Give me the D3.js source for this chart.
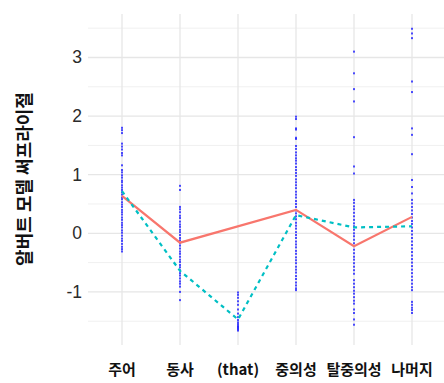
<!DOCTYPE html>
<html>
<head>
<meta charset="utf-8">
<script src="https://cdn.jsdelivr.net/npm/d3@7/dist/d3.min.js"></script>
<style>
html,body{margin:0;padding:0;background:#fff;}
svg{display:block;}
</style>
</head>
<body>
<svg id="chart" width="444" height="383"></svg>
<script>
const categories = ["주어", "동사", "(that)", "중의성", "탈중의성", "나머지"];
const yTicks = [-1, 0, 1, 2, 3];
const yMinor = [-1.5, -0.5, 0.5, 1.5, 2.5, 3.5];

// solid red line (null = no value)
const seriesSolid = [0.64, -0.16, null, 0.40, -0.22, 0.28];
// dashed teal line
const seriesDashed = [0.72, -0.64, -1.47, 0.31, 0.10, 0.12];

// individual blue points per category
const dots주어 = [1.80,1.76,1.71,1.53,1.48,1.43,1.37,1.33,1.16,1.08,1.04,0.99,0.95,0.90,0.87,0.82,0.78,0.74,0.70,0.66,0.61,0.58,0.53,0.49,0.45,0.40,0.36,0.32,0.27,0.23,0.18,0.14,0.10,0.05,0.01,-0.04,-0.09,-0.13,-0.18,-0.23,-0.27,-0.31];
const dots동사 = [0.81,0.74,0.45,0.41,0.36,0.30,0.26,0.20,0.15,0.11,0.06,0.02,-0.03,-0.08,-0.12,-0.17,-0.21,-0.26,-0.31,-0.35,-0.40,-0.45,-0.49,-0.54,-0.58,-0.63,-0.68,-0.72,-0.77,-0.82,-0.86,-0.91,-1.00,-1.14];
const dotsThat = [-1.01,-1.05,-1.10,-1.16,-1.22,-1.30,-1.37,-1.43,-1.48,-1.52,-1.55,-1.58,-1.60,-1.62,-1.64,-1.66];
const dots중의성 = [1.99,1.95,1.79,1.77,1.63,1.61,1.49,1.44,1.38,1.33,1.28,1.24,1.19,1.13,1.08,1.03,0.98,0.92,0.87,0.82,0.77,0.71,0.66,0.61,0.55,0.50,0.45,0.39,0.34,0.29,0.24,0.18,0.13,0.08,0.02,-0.03,-0.08,-0.14,-0.19,-0.24,-0.30,-0.35,-0.41,-0.46,-0.51,-0.57,-0.62,-0.67,-0.73,-0.78,-0.84,-0.89,-0.94,-0.97];
const dots탈중의성 = [3.10,2.73,2.46,2.25,1.64,1.14,1.02,0.57,0.52,0.46,0.41,0.35,0.29,0.23,0.17,0.12,0.06,0.00,-0.05,-0.11,-0.17,-0.22,-0.28,-0.34,-0.40,-0.45,-0.51,-0.57,-0.63,-0.69,-0.80,-0.86,-0.92,-0.98,-1.03,-1.09,-1.15,-1.20,-1.30,-1.36,-1.47,-1.56];
const dots나머지 = [3.49,3.41,3.33,2.59,2.41,1.79,1.68,1.35,0.91,0.79,0.68,0.57,0.51,0.45,0.39,0.33,0.27,0.21,0.16,0.10,0.04,-0.02,-0.08,-0.14,-0.20,-0.26,-0.32,-0.38,-0.44,-0.50,-0.56,-0.62,-0.68,-0.74,-0.80,-0.86,-0.92,-0.97,-1.17,-1.22,-1.27,-1.31,-1.36];
const dotGroups = [dots주어, dots동사, dotsThat, dots중의성, dots탈중의성, dots나머지];

const svg = d3.select("#chart");
const panel = {left: 88, right: 444, top: 14, bottom: 345};

const x = d3.scalePoint().domain(categories).range([122, 412]);
const y = d3.scaleLinear().domain([-1.906, 3.742]).range([panel.bottom, panel.top]);

// grid
const grid = svg.append("g");
grid.selectAll("line.minor").data(yMinor).join("line")
  .attr("x1", panel.left).attr("x2", panel.right)
  .attr("y1", d => y(d)).attr("y2", d => y(d))
  .attr("stroke", "#f0f0f0").attr("stroke-width", 1);
grid.selectAll("line.major").data(yTicks).join("line")
  .attr("x1", panel.left).attr("x2", panel.right)
  .attr("y1", d => y(d)).attr("y2", d => y(d))
  .attr("stroke", "#e6e6e6").attr("stroke-width", 1.3);
grid.selectAll("line.vert").data(categories).join("line")
  .attr("x1", d => x(d)).attr("x2", d => x(d))
  .attr("y1", panel.top).attr("y2", panel.bottom)
  .attr("stroke", "#e6e6e6").attr("stroke-width", 1.3);

// dots
const pts = [];
dotGroups.forEach((g, i) => g.forEach(v => pts.push({c: categories[i], v})));
svg.append("g").selectAll("rect").data(pts).join("rect")
  .attr("x", d => x(d.c) - 1)
  .attr("y", d => y(d.v) - 1)
  .attr("width", 2).attr("height", 2)
  .attr("fill", "#1f1fff").attr("opacity", 0.8);

// lines
const solidData = categories.map((c, i) => ({c, v: seriesSolid[i]})).filter(d => d.v !== null);
const dashedData = categories.map((c, i) => ({c, v: seriesDashed[i]}));
const line = d3.line().x(d => x(d.c)).y(d => y(d.v));
svg.append("path").datum(solidData).attr("d", line)
  .attr("fill", "none").attr("stroke", "#F8766D").attr("stroke-width", 2.2);
svg.append("path").datum(dashedData).attr("d", line)
  .attr("fill", "none").attr("stroke", "#00BFC4").attr("stroke-width", 2.2)
  .attr("stroke-dasharray", "4,4");

// y tick labels
svg.append("g").selectAll("text").data(yTicks).join("text")
  .attr("x", 82).attr("y", d => y(d))
  .attr("text-anchor", "end").attr("dominant-baseline", "central")
  .attr("font-family", "'Liberation Sans', Arial, sans-serif")
  .attr("font-size", 17.5).attr("fill", "#2b2b2b")
  .text(d => d);

// x labels
svg.append("g").selectAll("text").data(categories).join("text")
  .attr("x", d => x(d)).attr("y", 375)
  .attr("text-anchor", "middle")
  .attr("font-family", "'Noto Sans CJK KR', sans-serif")
  .attr("font-weight", "bold").attr("font-size", 15).attr("fill", "#111")
  .text(d => d);

// y title
svg.append("text")
  .attr("transform", "translate(23,179) rotate(-90)")
  .attr("text-anchor", "middle").attr("dominant-baseline", "central")
  .attr("font-family", "'Noto Sans CJK KR', sans-serif")
  .attr("font-weight", "bold").attr("font-size", 18).attr("fill", "#111")
  .text("알버트 모델 써프라이절");
</script>
</body>
</html>
